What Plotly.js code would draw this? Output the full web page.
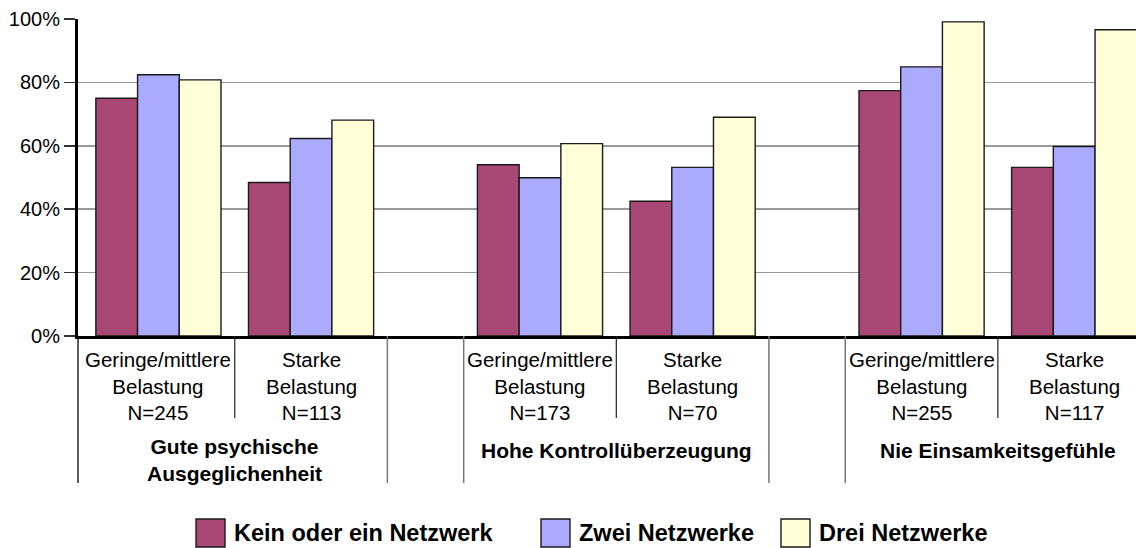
<!DOCTYPE html>
<html>
<head>
<meta charset="utf-8">
<script src="https://cdn.plot.ly/plotly-3.0.1.min.js"></script>
<style>
  html, body { margin: 0; padding: 0; background: #fff; }
  #chart { width: 1136px; height: 548px; }
</style>
</head>
<body>
<div id="chart"></div>
<script>
// ---- data ----
const subgroupLabels = ['Geringe/mittlere<br>Belastung', 'Starke<br>Belastung'];
const sampleSizes = [245, 113, 173, 70, 255, 117];
const groupNames = ['Gute psychische<br>Ausgeglichenheit', 'Hohe Kontrollüberzeugung', 'Nie Einsamkeitsgefühle'];
const seriesNames = ['Kein oder ein Netzwerk', 'Zwei Netzwerke', 'Drei Netzwerke'];
const keinOderEinNetzwerk = [75.0, 48.4, 54.0, 42.5, 77.4, 53.2];
const zweiNetzwerke = [82.4, 62.3, 49.9, 53.2, 84.9, 59.8];
const dreiNetzwerke = [80.8, 68.1, 60.7, 69.0, 99.1, 96.6];
const yTicks = [0, 20, 40, 60, 80, 100];

// ---- layout helpers ----
const W = 1136, H = 548, L = 78, T = 19, B = 212, R = 0;
const plotW = W - L - R, plotH = H - T - B;
const px2x = px => (px - L) / plotW;
const px2y = py => (H - B - py) / plotH;
const FONT = 'Liberation Sans, Arial, sans-serif';

// category positions: two sub-categories per group, half-slot gap between groups
const positions = sampleSizes.map((_, i) => Math.floor(i / 2) * 2.5 + (i % 2));

const colors = ['#A94874', '#AAAAFF', '#FFFFD8'];
const seriesValues = [keinOderEinNetzwerk, zweiNetzwerke, dreiNetzwerke];

const traces = seriesValues.map((vals, s) => ({
  type: 'bar',
  name: seriesNames[s],
  x: positions,
  y: vals,
  marker: { color: colors[s], line: { color: '#1a1a1a', width: 1.4 } },
  showlegend: false,
  hoverinfo: 'y+name'
}));

const shapes = [];
const annotations = [];

// separators between sub-categories
groupNames.forEach((g, gi) => {
  shapes.push({ type: 'line', xref: 'x', yref: 'paper', x0: gi * 2.5 + 0.5, x1: gi * 2.5 + 0.5,
    y0: 0, y1: px2y(418), line: { color: '#222', width: 1.2 } });
});
// group boundaries
[1.5, 2.0, 4.0, 4.5].forEach(x => {
  shapes.push({ type: 'line', xref: 'x', yref: 'paper', x0: x, x1: x,
    y0: 0, y1: px2y(483), line: { color: '#777', width: 1.5 } });
});
shapes.push({ type: 'line', xref: 'paper', yref: 'paper', x0: 0, x1: 0,
  y0: 0, y1: px2y(483), line: { color: '#000', width: 1.3 } });

// category labels
positions.forEach((p, i) => {
  annotations.push({ xref: 'x', yref: 'paper', x: p, y: px2y(346), yanchor: 'top', xanchor: 'center',
    showarrow: false, align: 'center',
    text: subgroupLabels[i % 2] + '<br>N=' + sampleSizes[i],
    font: { family: FONT, size: 20.5, color: '#000' } });
});
// group labels
groupNames.forEach((g, gi) => {
  const twoLines = g.indexOf('<br>') >= 0;
  annotations.push({ xref: 'x', yref: 'paper', x: gi * 2.5 + 0.5, y: px2y(twoLines ? 460 : 450),
    yanchor: 'middle', xanchor: 'center', showarrow: false, align: 'center',
    text: '<b>' + g + '</b>',
    font: { family: FONT, size: 21, color: '#000' } });
});

// legend (drawn)
const legendSwatchX = [196, 541, 781];
seriesNames.forEach((n, s) => {
  const x0 = legendSwatchX[s];
  shapes.push({ type: 'rect', xref: 'paper', yref: 'paper',
    x0: px2x(x0), x1: px2x(x0 + 29), y0: px2y(519), y1: px2y(547),
    fillcolor: colors[s], line: { color: '#1a1a1a', width: 1.4 } });
  annotations.push({ xref: 'paper', yref: 'paper', x: px2x(x0 + 36), y: px2y(533),
    xanchor: 'left', yanchor: 'middle', showarrow: false,
    text: '<b>' + n + '</b>', font: { family: FONT, size: 23.5, color: '#000' } });
});

const layout = {
  width: W, height: H,
  margin: { l: L, r: R, t: T, b: B, pad: 0 },
  paper_bgcolor: '#fff', plot_bgcolor: '#fff',
  barmode: 'group', bargap: 0.18, bargroupgap: 0,
  showlegend: false,
  font: { family: FONT, color: '#000' },
  xaxis: {
    range: [-0.527, 6.405], showticklabels: false, showgrid: false, zeroline: false,
    showline: true, linecolor: '#000', linewidth: 3, ticks: '', fixedrange: true
  },
  yaxis: {
    range: [0, 100], tickvals: yTicks, ticktext: yTicks.map(v => v + '%'),
    showline: true, linecolor: '#000', linewidth: 3,
    ticks: 'outside', ticklen: 11, tickwidth: 1.5, tickcolor: '#333',
    showgrid: true, gridcolor: '#999', gridwidth: 1.5, zeroline: false,
    tickfont: { family: FONT, size: 20, color: '#000' }, fixedrange: true
  },
  shapes: shapes,
  annotations: annotations
};

Plotly.newPlot('chart', traces, layout, { displayModeBar: false, staticPlot: true });
</script>
</body>
</html>
